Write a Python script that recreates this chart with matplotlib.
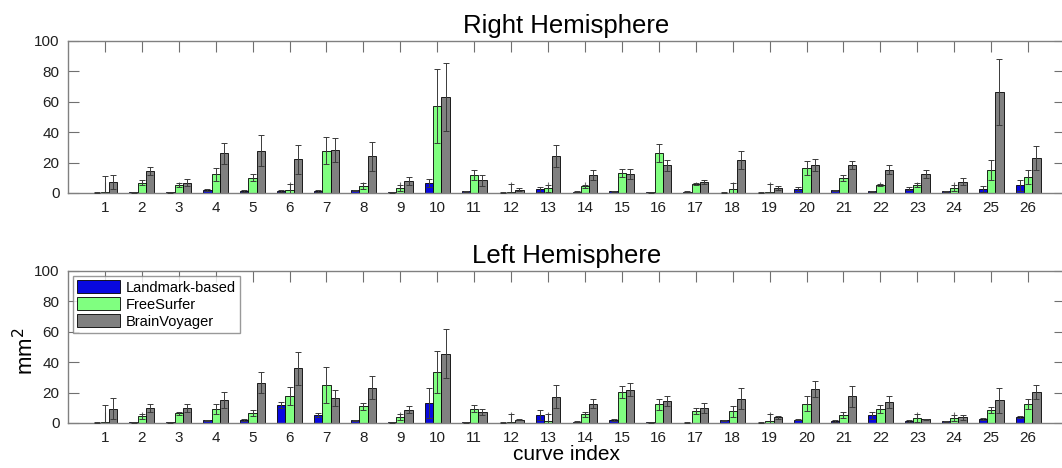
import numpy as np
import matplotlib
matplotlib.use("Agg")
from matplotlib import pyplot as plt

plt.rcParams['font.family'] = ['Liberation Sans', 'DejaVu Sans']

curves = np.arange(1, 27)
methods = ["Landmark-based", "FreeSurfer", "BrainVoyager"]
colors = ["#0808e0", "#80ff80", "#808080"]

# Right hemisphere: means and errors
right_lm = [0.3, 0.5, 0.5, 2.0, 1.3, 1.3, 1.3, 1.8, 0.5, 6.8, 1.1, 0.3, 2.4,
            0.8, 1.1, 0.4, 0.8, 0.3, 0.3, 2.6, 1.8, 1.1, 2.9, 1.1, 2.4, 5.1]
right_lm_err = [0.3, 0.3, 0.3, 0.6, 0.4, 0.4, 0.4, 0.5, 0.3, 2.7, 0.4, 0.3, 1.8,
                0.3, 0.4, 0.3, 0.3, 0.3, 0.3, 1.6, 0.5, 0.4, 0.8, 0.4, 2.0, 3.5]
right_fs = [0.5, 6.8, 5.3, 12.3, 10.1, 2.2, 27.9, 4.8, 3.3, 57.4, 11.9, 0.5, 3.1,
            4.4, 13.2, 26.2, 5.7, 2.6, 0.5, 16.7, 9.9, 5.3, 5.5, 3.3, 15.2, 10.5]
right_fs_err = [11.0, 1.8, 1.1, 4.4, 2.4, 3.9, 9.0, 2.0, 2.2, 24.4, 3.5, 5.5, 2.2,
                0.9, 2.8, 5.9, 0.7, 3.8, 5.5, 4.6, 1.7, 0.6, 1.3, 2.0, 6.8, 4.9]
right_bv = [7.0, 14.5, 6.8, 26.0, 27.9, 22.2, 28.1, 24.2, 7.9, 62.9, 8.4, 2.2, 24.2,
            12.1, 12.7, 18.2, 7.3, 22.0, 3.3, 18.5, 18.2, 15.4, 12.3, 7.5, 66.2, 22.9]
right_bv_err = [4.6, 2.9, 2.2, 6.7, 10.3, 9.4, 7.9, 9.4, 2.4, 22.4, 3.5, 0.8, 7.2,
                3.3, 3.3, 3.8, 1.3, 5.9, 1.5, 4.1, 2.7, 2.8, 2.6, 2.4, 21.7, 7.9]

# Left hemisphere: means and errors
left_lm = [0.3, 0.5, 0.5, 1.8, 2.0, 11.8, 5.3, 1.8, 0.5, 13.1, 0.5, 0.3, 5.3,
           0.9, 2.0, 0.5, 0.3, 1.8, 0.2, 2.2, 1.3, 5.0, 1.3, 1.1, 2.6, 4.2]
left_lm_err = [0.3, 0.3, 0.3, 0.5, 0.5, 1.8, 1.5, 0.5, 0.3, 9.7, 0.3, 0.3, 3.5,
               0.3, 0.5, 0.3, 0.3, 0.5, 0.2, 0.5, 0.4, 2.2, 0.4, 0.3, 0.9, 0.6]
left_fs = [0.5, 4.4, 6.3, 9.2, 6.6, 17.9, 25.2, 10.9, 3.9, 33.5, 9.4, 0.5, 1.5,
           5.7, 20.6, 12.3, 8.1, 7.7, 1.0, 12.7, 5.3, 9.2, 3.1, 3.5, 8.8, 12.5]
left_fs_err = [11.5, 1.5, 0.9, 3.3, 1.9, 6.0, 11.8, 2.4, 2.2, 14.0, 2.2, 5.5, 4.6,
               1.7, 3.9, 3.7, 2.0, 3.7, 5.1, 4.8, 2.1, 2.4, 2.6, 2.0, 1.9, 3.3]
left_bv = [9.4, 9.8, 9.8, 14.9, 26.5, 36.1, 16.4, 23.2, 8.8, 45.5, 7.2, 2.2, 17.3,
           12.7, 21.9, 14.4, 9.8, 16.0, 3.7, 22.3, 17.5, 13.6, 2.4, 3.9, 14.9, 20.6]
left_bv_err = [7.0, 2.7, 2.5, 5.2, 6.8, 10.9, 5.0, 7.4, 2.1, 16.2, 2.2, 0.4, 7.4,
               2.8, 4.4, 3.1, 3.5, 7.0, 0.9, 5.1, 6.8, 3.9, 0.3, 1.6, 8.1, 4.6]

W = 1062
H = 468
fig = plt.figure(figsize=(W / 100, H / 100), dpi=100)

def px_axes(left, top, right, bottom):
    return fig.add_axes([left / W, (H - bottom) / H, (right - left) / W, (bottom - top) / H])

ax_r = px_axes(68, 41, 1065, 193)
ax_l = px_axes(68, 271, 1065, 423)

bw = 0.225
offsets = [-bw, 0, bw]

def draw_panel(ax, means, errs, title):
    for k in range(3):
        x = curves + offsets[k]
        ax.bar(x, means[k], width=bw, color=colors[k], edgecolor="black",
               linewidth=0.6, label=methods[k], zorder=2)
        ax.errorbar(x, means[k], yerr=errs[k], fmt="none", ecolor="#3a3a3a",
                    elinewidth=0.7, capsize=2.2, capthick=0.7, zorder=3)
    ax.set_xlim(0, 27)
    ax.set_ylim(0, 100)
    ax.set_xticks(curves)
    ax.set_yticks(np.arange(0, 101, 20))
    ax.tick_params(direction="in", length=8, width=0.8, color="#707070",
                   top=True, right=True, labelsize=11, labelcolor="#202020", pad=6)
    for s in ax.spines.values():
        s.set_color("#808080")
        s.set_linewidth(1.0)
    ax.set_title(title, fontsize=18.5, pad=6)

draw_panel(ax_r, [right_lm, right_fs, right_bv],
           [right_lm_err, right_fs_err, right_bv_err], "Right Hemisphere")
draw_panel(ax_l, [left_lm, left_fs, left_bv],
           [left_lm_err, left_fs_err, left_bv_err], "Left Hemisphere")

ax_l.set_xlabel("curve index", fontsize=15, labelpad=0)
ax_l.set_ylabel("mm$^2$", fontsize=16, labelpad=8)
ax_l.yaxis.set_label_coords(-0.03, 0.47)

leg = ax_l.legend(loc="upper left", fontsize=10.5, frameon=True, fancybox=False,
                  edgecolor="#808080", handlelength=2.9, handleheight=0.9,
                  borderpad=0.3, labelspacing=0.2, handletextpad=0.4,
                  borderaxespad=0.35)
leg.get_frame().set_linewidth(1.0)

fig.savefig("out.png", dpi=100)
